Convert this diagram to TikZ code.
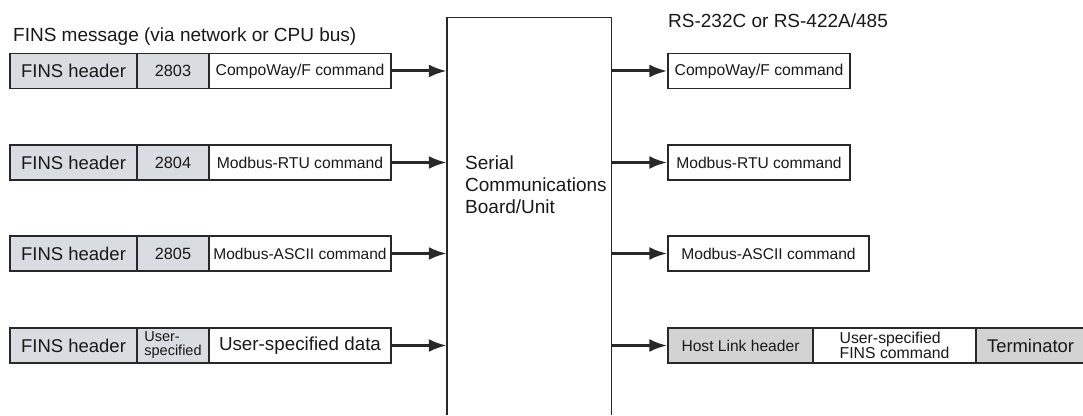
\documentclass[tikz,border=0pt]{standalone}
\usepackage{fontspec}
\setmainfont{Liberation Sans}
\usetikzlibrary{arrows.meta}
\newcommand{\fsz}[1]{\fontsize{#1}{#1}\selectfont}

\begin{document}
\begin{tikzpicture}[x=1pt,y=1pt,
  cell/.style={draw=drawColor,line width=1.4pt,inner sep=0pt,minimum height=35pt,text=textColor},
  greycell/.style={cell,fill=greyLeft},
  feed/.style={draw=drawColor,line width=3pt,-{Latex[length=18pt,width=13pt]}}]
\definecolor{drawColor}{RGB}{40,40,40}
\definecolor{textColor}{RGB}{25,25,25}
\definecolor{greyLeft}{RGB}{217,220,225}
\definecolor{greyRight}{RGB}{211,211,211}
\path[use as bounding box,fill=white] (0,0) rectangle (1083,415);

% FINS side
\node[anchor=base west,inner sep=0pt,text=textColor,font=\fsz{19}] (msg) at (13,373) {FINS message (via network or CPU bus)};

\node[greycell,minimum width=127pt,font=\fsz{18.5}] (hdrA) at ( 73.5,344.0) {FINS header};
\node[greycell,minimum width= 72pt,font=\fsz{16.3}] (codeA) at (173.0,344.0) {2803};
\node[cell,minimum width=182pt,font=\fsz{15.7}] (cmdA) at (300.0,344.0) {CompoWay/F command};

\node[greycell,minimum width=127pt,font=\fsz{18.5}] (hdrB) at ( 73.5,252.5) {FINS header};
\node[greycell,minimum width= 72pt,font=\fsz{16.3}] (codeB) at (173.0,252.5) {2804};
\node[cell,minimum width=182pt,font=\fsz{15.7}] (cmdB) at (300.0,252.5) {Modbus-RTU command};

\node[greycell,minimum width=127pt,font=\fsz{18.5}] (hdrC) at ( 73.5,161.5) {FINS header};
\node[greycell,minimum width= 72pt,font=\fsz{16.3}] (codeC) at (173.0,161.5) {2805};
\node[cell,minimum width=182pt,font=\fsz{15.5}] (cmdC) at (300.0,161.5) {Modbus-ASCII command};

\node[greycell,minimum width=127pt,font=\fsz{18.5}] (hdrD) at ( 73.5, 69.5) {FINS header};
\node[greycell,minimum width= 72pt,align=left,font=\fontsize{14.5}{14}\selectfont] (codeD) at (173.0, 69.5) {User-\\specified};
\node[cell,minimum width=182pt,font=\fsz{18.8}] (cmdD) at (300.0, 69.5) {User-specified data};

% Serial Communications Board/Unit
\node[minimum width=164pt,minimum height=397.5pt,inner sep=0pt] (board) at (529,198.75) {};
\path[draw=drawColor,line width=1.4pt] (board.south west) -- (board.north west) -- (board.north east) -- (board.south east);
\node[anchor=north west,align=left,inner sep=0pt,text=textColor,font=\fontsize{19}{22}\selectfont] (boardTxt) at (465,259.5) {Serial\\Communications\\Board/Unit};

% serial line side
\node[anchor=base west,inner sep=0pt,text=textColor,font=\fsz{19}] (line) at (668,387) {RS-232C or RS-422A/485};

\node[cell,minimum width=182pt,font=\fsz{15.7}] (outA) at (759.0,344.0) {CompoWay/F command};
\node[cell,minimum width=182pt,font=\fsz{15.6}] (outB) at (759.0,252.5) {Modbus-RTU command};
\node[cell,minimum width=201pt,font=\fsz{15.6}] (outC) at (768.5,161.5) {Modbus-ASCII command};

\node[cell,fill=greyRight,minimum width=145pt,font=\fsz{15.6}] (outD) at (740.5, 69.5) {Host Link header};
\node[cell,minimum width=163pt,align=left,font=\fontsize{15.8}{15}\selectfont] (finsD) at (894.5, 69.5) {User-specified\\FINS command};
\node[cell,fill=greyRight,minimum width=109pt,font=\fsz{18.4}] (termD) at (1030.5, 69.5) {Terminator};

% arrows
\draw[feed] (cmdA.east) -- (cmdA.east -| board.west);
\draw[feed] (cmdB.east) -- (cmdB.east -| board.west);
\draw[feed] (cmdC.east) -- (cmdC.east -| board.west);
\draw[feed] (cmdD.east) -- (cmdD.east -| board.west);

\draw[feed] (board.east |- outA.west) -- (outA.west);
\draw[feed] (board.east |- outB.west) -- (outB.west);
\draw[feed] (board.east |- outC.west) -- (outC.west);
\draw[feed] (board.east |- outD.west) -- (outD.west);
\end{tikzpicture}
\end{document}
